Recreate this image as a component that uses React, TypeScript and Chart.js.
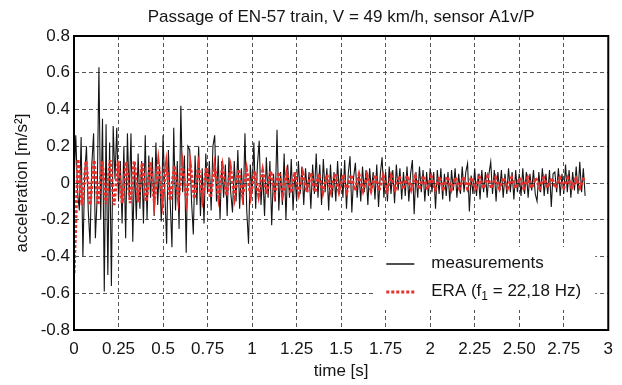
import React, { useEffect, useRef } from 'react';
import { Chart, registerables } from 'chart.js';

Chart.register(...registerables);

const TITLE = 'Passage of EN-57 train, V = 49 km/h, sensor A1v/P';
const X_TITLE = 'time [s]';
const Y_TITLE = 'acceleration [m/s²]';
const X_TICK_LABELS = ['0', '0.25', '0.5', '0.75', '1', '1.25', '1.5', '1.75', '2', '2.25', '2.50', '2.75', '3'];
const Y_TICK_LABELS = ['-0.8', '-0.6', '-0.4', '-0.2', '0', '0.2', '0.4', '0.6', '0.8'];
const LEGEND_MEAS = 'measurements';
const LEGEND_ERA_MAIN = 'ERA (f';
const LEGEND_ERA_SUB = '1';
const LEGEND_ERA_REST = ' = 22,18 Hz)';

// measured acceleration, sampled every MEAS_DT seconds from t = 0
const MEAS_DT = 0.01;
const MEASUREMENTS = [
  0.00, 0.26, -0.05, -0.15, 0.25, -0.40, 0.05, 0.20, -0.15, -0.33,
  0.10, 0.27, -0.30, -0.08, 0.63, -0.20, 0.35, -0.59, 0.32, -0.50,
  0.22, -0.56, 0.31, 0.02, 0.30, -0.10, 0.12, -0.22, 0.20, -0.30,
  0.27, -0.08, 0.27, -0.32, 0.10, -0.20, 0.16, -0.14, 0.12, -0.22,
  0.26, -0.20, 0.15, -0.08, 0.14, -0.18, 0.22, -0.12, 0.10, -0.21,
  0.26, -0.05, -0.33, 0.18, -0.10, -0.35, 0.30, -0.15, 0.12, -0.25,
  0.42, -0.05, 0.15, -0.38, 0.20, 0.18, -0.10, -0.28, 0.15, -0.12,
  0.20, -0.18, 0.08, -0.22, 0.16, -0.05, 0.12, -0.15, 0.20, 0.26,
  -0.10, 0.15, -0.20, 0.12, -0.08, 0.10, -0.18, 0.14, -0.05, -0.16,
  0.12, -0.10, 0.18, -0.14, 0.08, -0.12, 0.27, -0.15, -0.33, 0.10,
  -0.05, 0.22, -0.14, 0.10, 0.23, -0.12, 0.05, -0.18, 0.14, -0.08,
  0.12, -0.23, 0.05, -0.10, 0.29, -0.15, 0.06, -0.12, 0.16, -0.20,
  0.10, -0.08, 0.13, -0.15, 0.06, -0.10, 0.12, -0.06, 0.09, -0.12,
  0.08, -0.05, 0.06, -0.14, 0.10, -0.06, 0.16, -0.08, 0.10, -0.12,
  0.13, -0.05, 0.08, -0.15, 0.10, -0.08, 0.06, -0.10, 0.12, -0.06,
  0.08, -0.08, 0.125, -0.14, 0.05, 0.146, -0.16, 0.03, 0.11, -0.08,
  0.06, -0.10, 0.09, -0.05, 0.07, -0.12, 0.08, -0.04, 0.06, -0.09,
  0.10, -0.13, 0.05, 0.14, -0.08, 0.06, -0.10, 0.09, -0.06, 0.07,
  -0.11, 0.10, -0.04, 0.08, -0.09, 0.06, -0.07, 0.09, -0.10, 0.05,
  0.125, -0.17, 0.06, -0.08, 0.09, -0.05, 0.07, -0.10, 0.06, -0.07,
  0.08, -0.05, 0.06, -0.14, 0.07, -0.06, 0.08, -0.09, 0.05, -0.07,
  0.06, -0.10, 0.07, -0.04, 0.08, -0.08, 0.05, -0.06, 0.09, -0.05,
  0.06, 0.107, -0.155, 0.04, -0.06, 0.08, -0.07, 0.05, -0.09, 0.07,
  -0.05, 0.06, -0.08, 0.05, 0.115, -0.06, 0.07, -0.10, 0.06, -0.04,
  0.07, -0.08, 0.05, -0.06, 0.08, -0.05, 0.06, -0.09, 0.07, -0.05,
  0.05, -0.07, 0.08, -0.06, 0.06, -0.08, 0.05, -0.04, 0.07, -0.06,
  -0.10, 0.06, -0.05, 0.08, -0.07, 0.05, -0.06, 0.07, -0.13, 0.05,
  0.06, -0.05, 0.08, -0.07, 0.05, -0.06, 0.10, -0.05, 0.07, -0.08,
  0.06, -0.04, 0.09, -0.06, 0.115, -0.05, 0.08, -0.07,
];

// ERA model response: successive extremes (one every half period of f1), first value at t = 0
const ERA_F1 = 22.18;
const ERA_EXTREMES = [
  -0.49,
  0.13, -0.12, 0.12, -0.12, 0.125, -0.12, 0.12, -0.115, 0.125, -0.12,
  0.12, -0.11, 0.115, -0.11, 0.12, -0.105, 0.11, -0.10, 0.115, -0.10,
  0.11, -0.10, 0.10, -0.095, 0.095, -0.085, 0.10, -0.09, 0.095, -0.085,
  0.09, -0.08, 0.085, -0.08, 0.09, -0.075, 0.085, -0.07, 0.08, -0.075,
  0.075, -0.07, 0.07, -0.07, 0.065, -0.065, 0.065, -0.06, 0.065, -0.06,
  0.06, -0.06, 0.055, -0.055, 0.06, -0.055, 0.05, -0.05, 0.055, -0.05,
  0.05, -0.05, 0.045, -0.045, 0.05, -0.045, 0.045, -0.045, 0.045, -0.04,
  0.045, -0.04, 0.04, -0.04, 0.045, -0.04, 0.04, -0.04, 0.04, -0.035,
  0.04, -0.035, 0.04, -0.035, 0.035, -0.035, 0.04, -0.035, 0.035, -0.035,
  0.035, -0.03, 0.035, -0.035, 0.03, -0.03, 0.035, -0.03, 0.03, -0.03,
  0.03, -0.03, 0.035, -0.03, 0.03, -0.03, 0.03, -0.028, 0.03, -0.03,
  0.028, -0.028, 0.03, -0.028, 0.028, -0.028, 0.03, -0.025, 0.028, -0.028,
  0.028, -0.025, 0.028, -0.025, 0.025, -0.025, 0.028,
];

const FONT = '"Liberation Sans", Arial, sans-serif';
const FS = 17;
const RED = '#e8302c';
const INK = '#151515';

const framePlugin = {
  id: 'frameAndLegend',
  afterDatasetsDraw(chart: any) {
    const { ctx, chartArea } = chart;
    const { left, top, right, bottom } = chartArea;
    ctx.save();
    // title
    ctx.fillStyle = INK;
    ctx.font = `${FS}px ${FONT}`;
    ctx.textAlign = 'center';
    ctx.textBaseline = 'middle';
    ctx.fillText(TITLE, (left + right) / 2, 17);
    // legend box
    const bx = right - 233;
    const by = bottom - 83;
    ctx.fillStyle = '#ffffff';
    ctx.fillRect(bx, by, 220, 63);
    ctx.textAlign = 'left';
    // measurements
    ctx.strokeStyle = INK;
    ctx.lineWidth = 1.5;
    ctx.setLineDash([]);
    ctx.beginPath();
    ctx.moveTo(bx + 11, by + 17);
    ctx.lineTo(bx + 39, by + 17);
    ctx.stroke();
    ctx.fillStyle = INK;
    ctx.fillText(LEGEND_MEAS, bx + 56, by + 16);
    // ERA
    ctx.strokeStyle = RED;
    ctx.lineWidth = 3;
    ctx.setLineDash([3, 2]);
    ctx.beginPath();
    ctx.moveTo(bx + 11, by + 45);
    ctx.lineTo(bx + 40, by + 45);
    ctx.stroke();
    ctx.setLineDash([]);
    let tx = bx + 56;
    ctx.fillText(LEGEND_ERA_MAIN, tx, by + 44);
    tx += ctx.measureText(LEGEND_ERA_MAIN).width;
    ctx.font = `12px ${FONT}`;
    ctx.fillText(LEGEND_ERA_SUB, tx, by + 50);
    tx += ctx.measureText(LEGEND_ERA_SUB).width;
    ctx.font = `${FS}px ${FONT}`;
    ctx.fillText(LEGEND_ERA_REST, tx, by + 44);
    // frame
    ctx.strokeStyle = '#000';
    ctx.lineWidth = 2;
    ctx.strokeRect(left, top, right - left, bottom - top);
    ctx.restore();
  },
};

export default function App() {
  const ref = useRef<HTMLCanvasElement | null>(null);

  useEffect(() => {
    if (!ref.current) return;
    const measData = MEASUREMENTS.map((v, i) => ({ x: i * MEAS_DT, y: v }));
    const eraHalfPeriod = 1 / (2 * ERA_F1);
    const eraData = ERA_EXTREMES.map((v, i) => ({ x: i * eraHalfPeriod, y: v }));
    const gridOpts = {
      color: '#555',
      lineWidth: 1,
      drawTicks: false,
    };
    const chart = new Chart(ref.current, {
      type: 'line',
      data: {
        datasets: [
          {
            label: 'ERA',
            data: eraData,
            borderColor: RED,
            borderWidth: 3,
            borderDash: [3, 2],
            pointRadius: 0,
            fill: false,
            order: 0,
          },
          {
            label: LEGEND_MEAS,
            data: measData,
            borderColor: INK,
            borderWidth: 1.1,
            pointRadius: 0,
            fill: false,
            order: 1,
          },
        ],
      },
      options: {
        animation: false,
        responsive: false,
        layout: { padding: { left: 0, right: 9, top: 36, bottom: 0 } },
        plugins: {
          legend: { display: false },
          tooltip: { enabled: false },
          title: { display: false },
        },
        scales: {
          x: {
            type: 'linear',
            min: 0,
            max: 3,
            afterFit: (s: any) => { s.height = 55; },
            grid: { ...gridOpts },
            border: { display: true, color: '#000', width: 2, dash: [4, 3] },
            ticks: {
              stepSize: 0.25,
              autoSkip: false,
              maxRotation: 0,
              padding: 9,
              color: INK,
              font: { family: FONT, size: FS },
              callback: (_v: any, i: number) => X_TICK_LABELS[i],
            },
            title: {
              display: true,
              text: X_TITLE,
              color: INK,
              font: { family: FONT, size: FS },
              padding: { top: 0, bottom: 3 },
            },
          },
          y: {
            type: 'linear',
            min: -0.8,
            max: 0.8,
            afterFit: (s: any) => { s.width = 74; },
            grid: { ...gridOpts },
            border: { display: true, color: '#000', width: 2, dash: [4, 3] },
            ticks: {
              stepSize: 0.2,
              autoSkip: false,
              padding: 4,
              color: INK,
              font: { family: FONT, size: FS },
              callback: (_v: any, i: number) => Y_TICK_LABELS[i],
            },
            title: {
              display: true,
              text: Y_TITLE,
              color: INK,
              font: { family: FONT, size: FS },
              padding: { top: 12, bottom: 0 },
            },
          },
        },
      },
      plugins: [framePlugin],
    });
    return () => chart.destroy();
  }, []);

  return (
    <div style={{ position: 'fixed', left: 0, top: 0, width: 622, height: 385, background: '#fff' }}>
      <canvas ref={ref} width={622} height={385} style={{ display: 'block' }} />
    </div>
  );
}
